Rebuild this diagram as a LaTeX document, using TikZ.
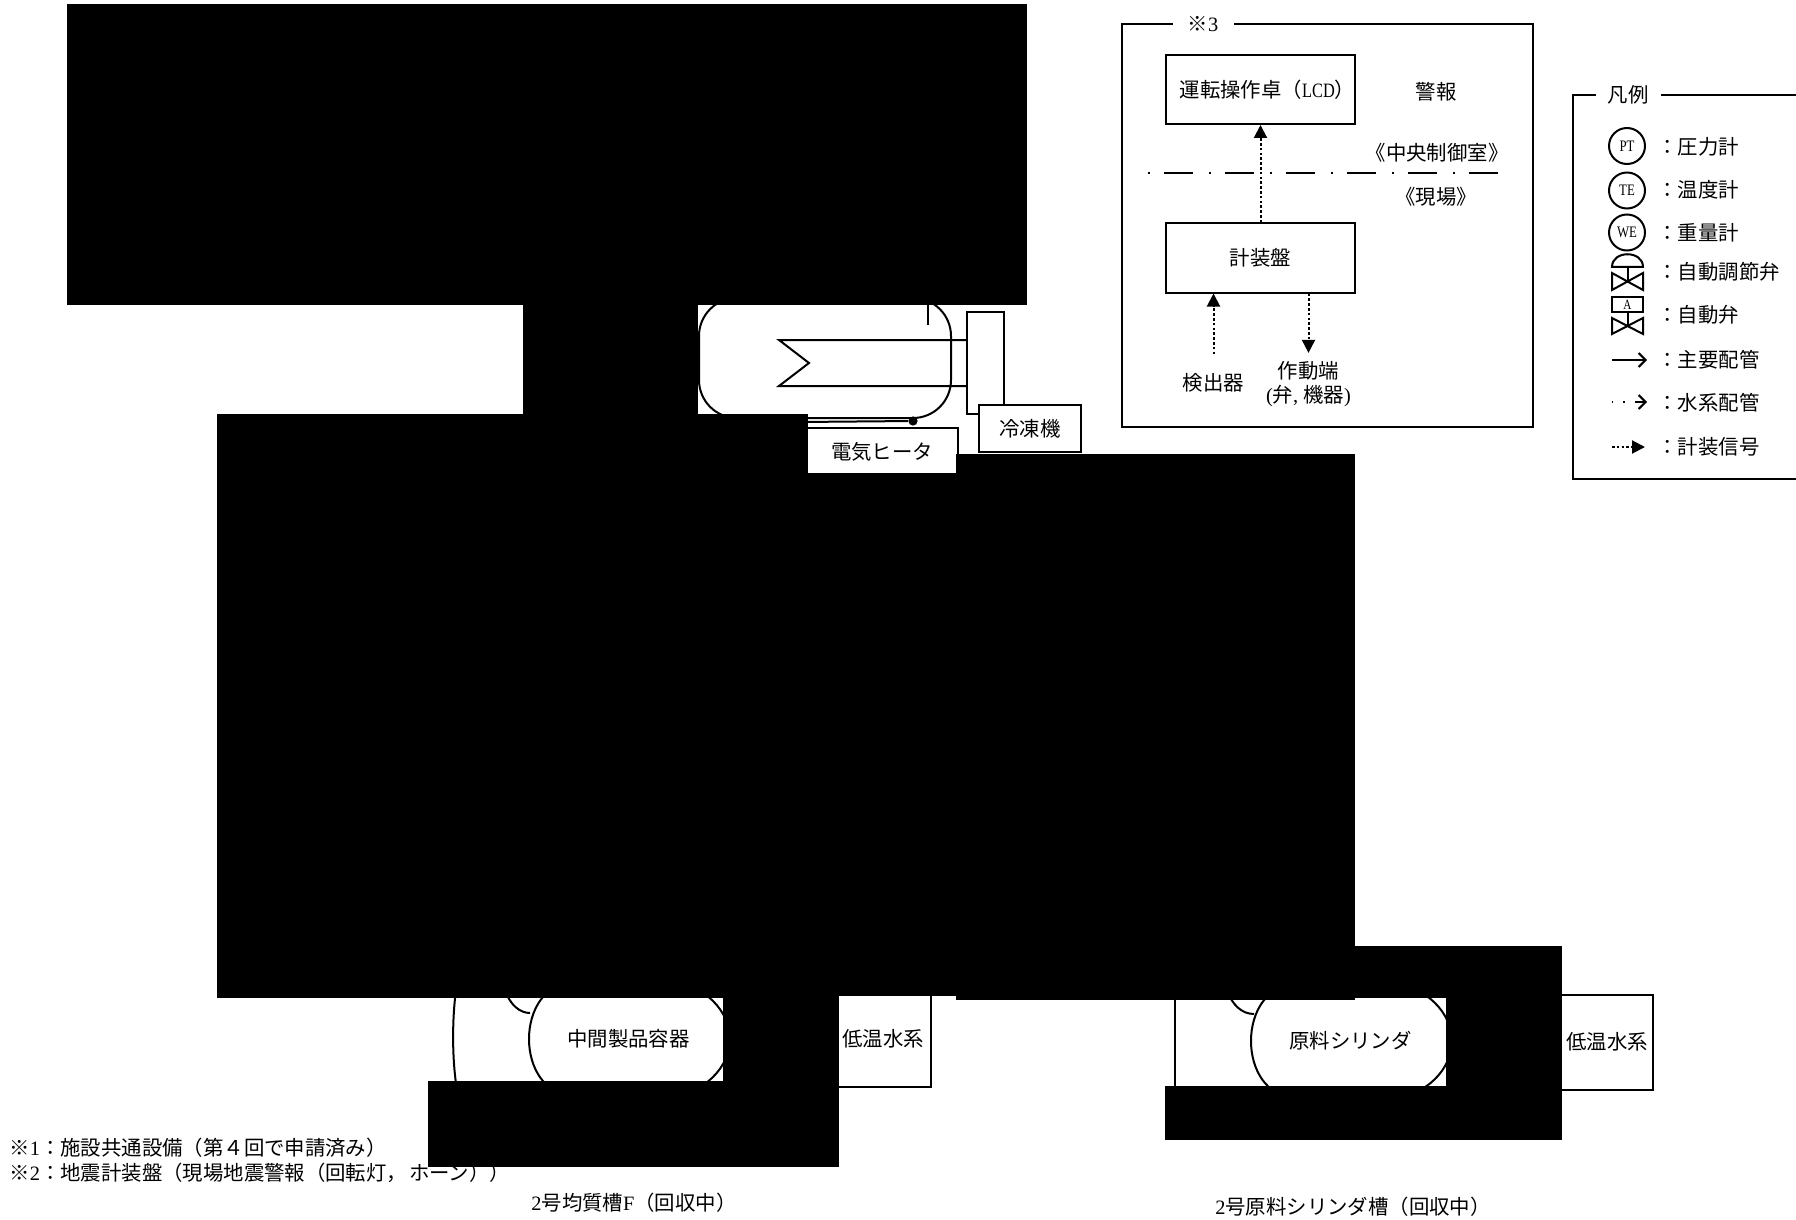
\documentclass[tikz,border=0pt]{standalone}
\usepackage{fontspec}
\setmainfont{Noto Sans CJK JP}
\newfontfamily\latinf{Liberation Serif}
\newfontfamily\tagf[FakeStretch=0.8]{Liberation Serif}
\newcommand{\hw}[1]{{\latinf #1}}
\usetikzlibrary{arrows.meta, positioning, calc}

\tikzset{
  every node/.style={font=\fontsize{10.2pt}{12pt}\selectfont, inner sep=0pt},
  pipe/.style={line width=1pt},
  panelbox/.style={draw, line width=1pt, minimum width=94.5pt, minimum height=34.5pt},
  gaugecirc/.style={draw, circle, line width=1pt, minimum size=18pt, font=\fontsize{8pt}{9pt}\tagf},
  sigline/.style={line width=1pt, dash pattern=on 1.3pt off 1.1pt},
  sigtip/.style={-{Stealth[inset=0pt, length=6.5pt, width=6.5pt]}},
  mainarrow/.style={line width=1pt, -{Straight Barb[length=3.5pt, width=7pt]}},
  chainline/.style={line width=1pt, dash pattern=on .9pt off 7.1pt on 14.6pt off 7.9pt},
  hidden/.style={fill=black}
}

\begin{document}
\begin{tikzpicture}[>=Stealth, x=0.5pt, y=-0.5pt]
  \useasboundingbox (0,0) rectangle (1796,1220);

  % storage tank and chiller
  \draw[pipe, rounded corners=19pt] (699,298) rectangle (951,418);
  \draw[pipe] (928,298) -- (928,325);
  \node[draw, line width=1pt, minimum width=18.5pt, minimum height=51pt] (chillunit) at (985.5,363) {};
  \coordinate (coilA) at (779,340);
  \coordinate (coilN) at (809,363);
  \coordinate (coilB) at (779,386);
  \draw[pipe] (chillunit.west |- coilA) -- (coilA) -- (coilN) -- (coilB) -- (chillunit.west |- coilB);
  \node[draw, fill=white, line width=1pt, minimum width=51pt, minimum height=23.5pt] (chiller) at (1030,428.5) {冷凍機};
  \node[draw, line width=1pt, minimum width=76pt, minimum height=24pt] (heater) at (882,452) {電気ヒータ};
  \node[circle, fill=black, minimum size=4.6pt] (heatdot) at (913,421) {};
  \coordinate (heatend) at (800,422);
  \draw[pipe] (heatend) -- (heatdot);

  % lower vessels
  \draw[pipe] (570,984) .. controls (545,984) and (529,1010) .. (529,1039) .. controls (529,1068) and (545,1094) .. (570,1094) -- (675,1094)
    .. controls (702,1094) and (730,1068) .. (730,1039) .. controls (730,1010) and (702,984) .. (675,984) -- cycle;
  \draw[pipe] (456,990) .. controls (452,1020) and (452,1060) .. (457,1090);
  \draw[pipe] (505,990) .. controls (510,1005) and (520,1013) .. (530,1013);
  \node (vesselF) at (628.5,1039) {中間製品容器};
  \node[draw, line width=1pt, minimum width=48pt, minimum height=48pt] (coolF) at (883,1039) {低温水系};
  \node (tankF) at (634,1203) {\hw{2}号均質槽\hw{F}（回収中）};

  \draw[pipe, shift={(722,2)}] (570,984) .. controls (545,984) and (529,1010) .. (529,1039) .. controls (529,1068) and (545,1094) .. (570,1094) -- (675,1094)
    .. controls (702,1094) and (730,1068) .. (730,1039) .. controls (730,1010) and (702,984) .. (675,984) -- cycle;
  \draw[pipe] (1175,995) -- (1175,1090);
  \draw[pipe] (1227,990) .. controls (1232,1005) and (1242,1014) .. (1254,1014);
  \node (cylinder) at (1350.5,1041) {原料シリンダ};
  \node[draw, line width=1pt, minimum width=46pt, minimum height=47.5pt] (coolC) at (1607,1042) {低温水系};
  \node (tankC) at (1353,1207) {\hw{2}号原料シリンダ槽（回収中）};

  \node[anchor=west] (noteA) at (9,1148) {※\hw{1}：施設共通設備（第４回で申請済み）};
  \node[anchor=west] (noteB) at (9,1173) {※\hw{2}：地震計装盤（現場地震警報（回転灯，\kern1pt ホーン））};

  % alarm frame
  \node[draw, line width=1pt, minimum width=205.5pt, minimum height=201.5pt] (alarmframe) at (1327.5,225.5) {};
  \node[fill=white, minimum width=30.5pt, minimum height=10pt] (alarmtitle) at (1203,24) {※\hw{3}};
  \node[panelbox] (console) at (1260.5,89.5) {運転操作卓（{\tagf LCD}）\kern-7pt};
  \node (alarm) at (1436,92) {警報};
  \node (ctrlroom) at (1437,153) {《中央制御室》};
  \node (field) at (1436,197) {《現場》};
  \coordinate (chainL) at (1148,173.5);
  \coordinate (chainR) at (1498,173.5);
  \draw[chainline] (chainL) -- (chainR);
  \node[panelbox] (panel) at (1260.5,258) {計装盤};
  \node (detector) at (1213.5,383) {検出器};
  \node[align=center] (actuator) at (1308.5,384) {作動端\\\hw{(}弁\hw{, }機器\hw{)}};
  \draw[sigline, sigtip] (panel) -- (console);
  \draw[sigline, sigtip] ($(detector.north)+(0,-19)$) -- (detector.north |- panel.south);
  \draw[sigline, sigtip] (actuator.north |- panel.south) -- ($(actuator.north)+(0,-8)$);

  % legend
  \draw[line width=1pt] (1796,95) -- (1572.5,95) -- (1572.5,479) -- (1796,479);
  \node[fill=white, minimum width=32.5pt, minimum height=10pt] (legendtitle) at (1628,95) {凡例};
  \node[gaugecirc] (gaugeP) at (1627,146) {PT};
  \node[gaugecirc] (gaugeT) at (1627,190.5) {TE};
  \node[gaugecirc] (gaugeW) at (1627,232.5) {WE};
  \draw[pipe] (1612,267) .. controls (1612,250) and (1643,250) .. (1643,267) -- cycle;
  \draw[pipe] (1627.5,267) -- (1627.5,281.5);
  \draw[pipe] (1612,273) -- (1643,290) -- (1643,273) -- (1612,290) -- cycle;
  \node[draw, line width=1pt, minimum width=15.5pt, minimum height=7.5pt, font=\fontsize{7pt}{8pt}\tagf] (actbox) at (1627.5,304.5) {A};
  \coordinate (actcross) at (1627.5,326);
  \draw[pipe] (actbox.south) -- (actcross);
  \draw[pipe] (1612,318) -- (1643,334) -- (1643,318) -- (1612,334) -- cycle;
  \coordinate (mainA) at (1612,360);
  \coordinate (mainB) at (1647,360);
  \draw[mainarrow] (mainA) -- (mainB);
  \coordinate (waterA) at (1612,402);
  \coordinate (waterB) at (1635,402);
  \coordinate (waterC) at (1647,402);
  \draw[line width=1pt, dash pattern=on .7pt off 5pt] (waterA) -- (waterB);
  \draw[mainarrow] (waterB) -- (waterC);
  \coordinate (signalA) at (1612,447);
  \coordinate (signalB) at (1645,447);
  \draw[sigline, sigtip] (signalA) -- (signalB);
  \node[anchor=west] (labelP) at (1657,147) {：圧力計};
  \node[anchor=west] (labelT) at (1657,190) {：温度計};
  \node[anchor=west] (labelW) at (1657,233) {：重量計};
  \node[anchor=west] (labelCV) at (1657,272) {：自動調節弁};
  \node[anchor=west] (labelAV) at (1657,315) {：自動弁};
  \node[anchor=west] (labelMain) at (1657,360) {：主要配管};
  \node[anchor=west] (labelWater) at (1657,403) {：水系配管};
  \node[anchor=west] (labelSig) at (1657,447) {：計装信号};

  % blacked out parts
  \fill[hidden] (67,4) rectangle (1027,305);
  \fill[hidden] (523,305) rectangle (698,414);
  \fill[hidden] (217,414) rectangle (808,998);
  \fill[hidden] (808,473) rectangle (956,996);
  \fill[hidden] (956,454) rectangle (1355,1000);
  \fill[hidden] (723,990) rectangle (839,1081);
  \fill[hidden] (428,1081) rectangle (839,1167);
  \fill[hidden] (1355,946) rectangle (1562,998);
  \fill[hidden] (1446,998) rectangle (1562,1086);
  \fill[hidden] (1165,1086) rectangle (1562,1140);
\end{tikzpicture}
\end{document}
